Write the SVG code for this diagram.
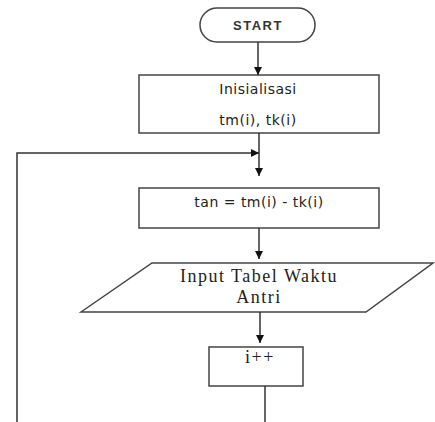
<svg xmlns="http://www.w3.org/2000/svg" width="435" height="422" viewBox="0 0 435 422">
  <style>
    .shape { fill: #fff; stroke: #444; stroke-width: 1.5; }
    .link { fill: none; stroke: #333; stroke-width: 1.5; }
    .sans { font-family: "DejaVu Sans", Verdana, sans-serif; font-size: 14px; fill: #222; letter-spacing: 0.5px; text-anchor: middle; }
    .serif { font-family: "Liberation Serif", "Times New Roman", serif; font-size: 18px; fill: #222; letter-spacing: 1.5px; text-anchor: middle; }
  </style>
  <defs>
    <marker id="arrow" markerWidth="8" markerHeight="8" refX="8" refY="4" orient="auto" markerUnits="userSpaceOnUse">
      <path d="M0,0 L8,4 L0,8 Z" fill="#111"/>
    </marker>
  </defs>
  <rect width="435" height="422" fill="#fff"/>

  <g id="start">
    <rect class="shape" x="200" y="8" width="115" height="34" rx="17" ry="17"/>
    <text x="258" y="30" font-family="'Liberation Sans', Arial, sans-serif" font-size="13" font-weight="bold" fill="#333" letter-spacing="1.5" text-anchor="middle">START</text>
  </g>

  <g id="init">
    <rect class="shape" x="139" y="75" width="240" height="58"/>
    <text class="sans" x="258" y="94">Inisialisasi</text>
    <text class="sans" x="258" y="125">tm(i), tk(i)</text>
  </g>

  <g id="calc">
    <rect class="shape" x="139" y="188" width="240" height="40"/>
    <text class="sans" x="259" y="207">tan = tm(i) - tk(i)</text>
  </g>

  <g id="input">
    <polygon class="shape" points="81,312 152,263 433,263 366,312"/>
    <text class="serif" x="259" y="282">Input Tabel Waktu</text>
    <text class="serif" x="259" y="303">Antri</text>
  </g>

  <g id="increment">
    <rect class="shape" x="209" y="347" width="94" height="39"/>
    <text class="serif" x="260" y="363" font-size="16" letter-spacing="2">i++</text>
  </g>

  <g id="connectors">
    <line class="link" x1="258" y1="42" x2="258" y2="75" marker-end="url(#arrow)"/>
    <line class="link" x1="259" y1="133" x2="259" y2="176" marker-end="url(#arrow)"/>
    <polyline class="link" points="17,422 17,153 259,153" stroke="#444" stroke-width="2" marker-end="url(#arrow)"/>
    <line class="link" x1="259" y1="228" x2="259" y2="259" marker-end="url(#arrow)"/>
    <line class="link" x1="260" y1="312" x2="260" y2="343" marker-end="url(#arrow)"/>
    <line class="link" x1="265" y1="386" x2="265" y2="422" stroke="#555" stroke-width="2"/>
  </g>
</svg>
